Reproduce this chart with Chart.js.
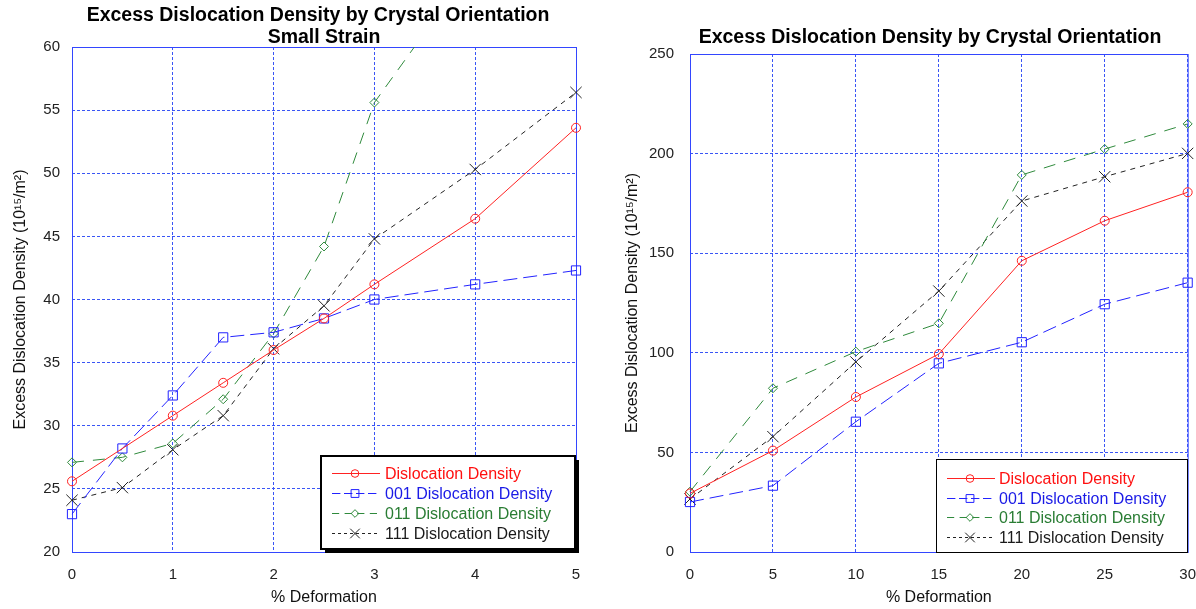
<!DOCTYPE html>
<html>
<head>
<meta charset="utf-8">
<title>Excess Dislocation Density by Crystal Orientation</title>
<script src="https://cdn.jsdelivr.net/npm/chart.js"></script>
<style>
  html, body { margin: 0; padding: 0; background: #ffffff; overflow: hidden; width: 1196px; height: 609px; }
  #smallStrain { position: absolute; left: 0; top: 0; }
  #fullStrain { position: absolute; left: 600px; top: 0; }
</style>
</head>
<body>
<canvas id="smallStrain" width="600" height="609"></canvas>
<canvas id="fullStrain" width="610" height="609"></canvas>
<script>
// ---- Data: small strain range (0-5 % deformation) ----
const smallDeformation = [0, 0.5, 1, 1.5, 2, 2.5, 3, 4, 5];
const smallTotal = [25.6, null, 30.8, 33.4, 36.0, 38.5, 41.2, 46.4, 53.6];
const small001   = [23.0, 28.2, 32.4, 37.0, 37.4, 38.5, 40.0, 41.2, 42.3];
const small011   = [27.1, 27.5, 28.6, 32.1, 37.3, 44.2, 55.6, 66.7, null];
const small111   = [24.1, 25.1, 28.1, 30.8, 36.1, 39.5, 44.8, 50.3, 56.4];
const smallXTicks = [0, 1, 2, 3, 4, 5];
const smallYTicks = [20, 25, 30, 35, 40, 45, 50, 55, 60];

// ---- Data: full range (0-30 % deformation) ----
const fullDeformation = [0, 5, 10, 15, 20, 25, 30];
const fullTotal = [29.4, 50.9, 77.8, 99.4, 146.2, 166.3, 180.6];
const full001   = [25.1, 33.3, 65.4, 94.7, 105.3, 124.4, 135.2];
const full011   = [30.3, 82.2, 100.6, 114.8, 189.3, 202.3, 214.9];
const full111   = [26.6, 57.9, 95.4, 131.0, 176.2, 188.4, 200.1];
const fullXTicks = [0, 5, 10, 15, 20, 25, 30];
const fullYTicks = [0, 50, 100, 150, 200, 250];

const seriesNames = [
  'Dislocation Density',
  '001 Dislocation Density',
  '011 Dislocation Density',
  '111 Dislocation Density'
];

// ---- Styles ----
const FONT = '"Liberation Sans", Arial, Helvetica, sans-serif';
const lineStyles = [
  { color: '#ff2222', text: '#ff1010', dash: [],      point: 'circle',   radius: 4.5 },
  { color: '#2222ff', text: '#1a1ae6', dash: [14, 6], point: 'rect',     radius: 6.5 },
  { color: '#2f8a3c', text: '#2a7d34', dash: [12, 9], point: 'rectRot',  radius: 4.5 },
  { color: '#222222', text: '#1a1a1a', dash: [5, 5],  point: 'crossRot', radius: 8 }
];
const gridBlue = '#3a55f5';
const frameBlue = '#3346ff';

function makeDatasets(xs, seriesValues) {
  return seriesValues.map((values, i) => {
    const st = lineStyles[i];
    return {
      label: seriesNames[i],
      data: xs.map((x, j) => ({ x: x, y: values[j] })),
      borderColor: st.color,
      borderWidth: 1,
      borderDash: st.dash,
      pointStyle: st.point,
      pointRadius: st.radius,
      pointHoverRadius: st.radius,
      pointBorderColor: st.color,
      pointBackgroundColor: 'rgba(0,0,0,0)',
      pointBorderWidth: 1,
      fill: false,
      tension: 0,
      spanGaps: true,
      clip: { left: 12, right: 12, top: 0, bottom: 12 }
    };
  });
}

// Solid blue frame round the plotting area
const plotFrame = {
  id: 'plotFrame',
  beforeDatasetsDraw(chart) {
    const a = chart.chartArea, ctx = chart.ctx;
    ctx.save();
    ctx.strokeStyle = frameBlue;
    ctx.lineWidth = 1;
    ctx.setLineDash([]);
    ctx.strokeRect(a.left + 0.5, a.top + 0.5, a.right - a.left, a.bottom - a.top);
    ctx.restore();
  }
};

// Heading text above the plot
const chartHeading = {
  id: 'chartHeading',
  afterDraw(chart, args, opts) {
    if (!opts || !opts.lines) return;
    const ctx = chart.ctx;
    ctx.save();
    ctx.fillStyle = '#000000';
    ctx.font = 'bold 19.5px ' + FONT;
    ctx.textAlign = 'center';
    ctx.textBaseline = 'middle';
    opts.lines.forEach(l => ctx.fillText(l.text, l.x, l.y));
    ctx.restore();
  }
};

function drawMarker(ctx, style, x, y, r) {
  ctx.beginPath();
  if (style === 'circle') {
    ctx.arc(x, y, r, 0, Math.PI * 2);
  } else if (style === 'rect') {
    const h = r * Math.SQRT1_2;
    ctx.rect(x - h, y - h, 2 * h, 2 * h);
  } else if (style === 'rectRot') {
    ctx.moveTo(x, y - r); ctx.lineTo(x + r, y); ctx.lineTo(x, y + r); ctx.lineTo(x - r, y); ctx.closePath();
  } else if (style === 'crossRot') {
    const h = r * Math.SQRT1_2;
    ctx.moveTo(x - h, y - h); ctx.lineTo(x + h, y + h);
    ctx.moveTo(x + h, y - h); ctx.lineTo(x - h, y + h);
  }
  ctx.stroke();
}

// Boxed legend inside the plot, one row per dataset
const boxLegend = {
  id: 'boxLegend',
  afterDatasetsDraw(chart, args, o) {
    if (!o || !o.w) return;
    const ctx = chart.ctx;
    ctx.save();
    ctx.setLineDash([]);
    if (o.shadow) {
      ctx.fillStyle = '#000000';
      ctx.fillRect(o.x + o.shadow, o.y + o.shadow, o.w, o.h);
    }
    ctx.fillStyle = '#ffffff';
    ctx.fillRect(o.x, o.y, o.w, o.h);
    ctx.strokeStyle = '#000000';
    ctx.lineWidth = o.border;
    const off = o.border % 2 ? 0.5 : 0;
    ctx.strokeRect(o.x + off, o.y + off, o.w, o.h);

    ctx.font = '16px ' + FONT;
    ctx.textAlign = 'left';
    ctx.textBaseline = 'middle';
    chart.data.datasets.forEach((ds, i) => {
      const st = lineStyles[i];
      const y = Math.round(o.y + o.row0 + i * o.rowGap) + 0.5;
      ctx.strokeStyle = st.color;
      ctx.lineWidth = 1;
      ctx.setLineDash(st.dash.map(d => d * 0.6));
      ctx.beginPath();
      ctx.moveTo(o.x + o.sampleFrom, y);
      ctx.lineTo(o.x + o.sampleTo, y);
      ctx.stroke();
      ctx.setLineDash([]);
      drawMarker(ctx, st.point, o.x + o.markAt, y, st.radius * 0.85);
      ctx.fillStyle = st.text;
      ctx.fillText(ds.label, o.x + o.textAt, y + 1);
    });
    ctx.restore();
  }
};

function buildChart(canvasId, cfg) {
  const tickFont = { family: FONT, size: 15 };
  const axisFont = { family: FONT, size: 16 };
  return new Chart(document.getElementById(canvasId), {
    type: 'line',
    data: { datasets: makeDatasets(cfg.xs, cfg.series) },
    options: {
      responsive: false,
      animation: false,
      events: [],
      layout: { padding: cfg.padding },
      scales: {
        x: {
          type: 'linear',
          min: cfg.xTicks[0],
          max: cfg.xTicks[cfg.xTicks.length - 1],
          afterBuildTicks: s => { s.ticks = cfg.xTicks.map(v => ({ value: v })); },
          afterFit: s => { s.height = 57; },
          grid: { color: gridBlue, lineWidth: 1, drawTicks: false },
          border: { display: false, dash: [3, 2] },
          ticks: { font: tickFont, color: '#222222', padding: 14, maxRotation: 0, autoSkip: false },
          title: { display: true, text: '% Deformation', font: axisFont, color: '#111111', padding: { top: 0, bottom: 2 } }
        },
        y: {
          type: 'linear',
          min: cfg.yTicks[0],
          max: cfg.yTicks[cfg.yTicks.length - 1],
          afterBuildTicks: s => { s.ticks = cfg.yTicks.map(v => ({ value: v })); },
          afterFit: s => { s.width = cfg.yAxisWidth; },
          grid: { color: gridBlue, lineWidth: 1, drawTicks: false },
          border: { display: false, dash: [3, 2] },
          ticks: { font: tickFont, color: '#222222', padding: cfg.yTickPad, autoSkip: false },
          title: {
            display: true,
            text: 'Excess Dislocation Density (10\u00B9\u2075/m\u00B2)',
            font: axisFont, color: '#111111',
            padding: { top: cfg.yTitlePad, bottom: 0 }
          }
        }
      },
      plugins: {
        legend: { display: false },
        tooltip: { enabled: false },
        title: { display: false },
        chartHeading: { lines: cfg.heading },
        boxLegend: cfg.legend
      }
    },
    plugins: [plotFrame, chartHeading, boxLegend]
  });
}

buildChart('smallStrain', {
  xs: smallDeformation,
  series: [smallTotal, small001, small011, small111],
  xTicks: smallXTicks,
  yTicks: smallYTicks,
  padding: { top: 47, right: 24, bottom: 0, left: 0 },
  yAxisWidth: 72,
  yTickPad: 12,
  yTitlePad: 11,
  heading: [
    { text: 'Excess Dislocation Density by Crystal Orientation', x: 318, y: 16 },
    { text: 'Small Strain', x: 324, y: 38 }
  ],
  legend: { x: 321, y: 456, w: 254, h: 93, border: 2, shadow: 4,
            row0: 17, rowGap: 20, sampleFrom: 11, sampleTo: 59, markAt: 34, textAt: 64 }
});

buildChart('fullStrain', {
  xs: fullDeformation,
  series: [fullTotal, full001, full011, full111],
  xTicks: fullXTicks,
  yTicks: fullYTicks,
  padding: { top: 54, right: 22, bottom: 0, left: 0 },
  yAxisWidth: 90,
  yTickPad: 16,
  yTitlePad: 23,
  heading: [
    { text: 'Excess Dislocation Density by Crystal Orientation', x: 330, y: 38 }
  ],
  legend: { x: 336, y: 459, w: 251, h: 93, border: 1, shadow: 0,
            row0: 19, rowGap: 19.5, sampleFrom: 11, sampleTo: 59, markAt: 34, textAt: 63 }
});
</script>
</body>
</html>
